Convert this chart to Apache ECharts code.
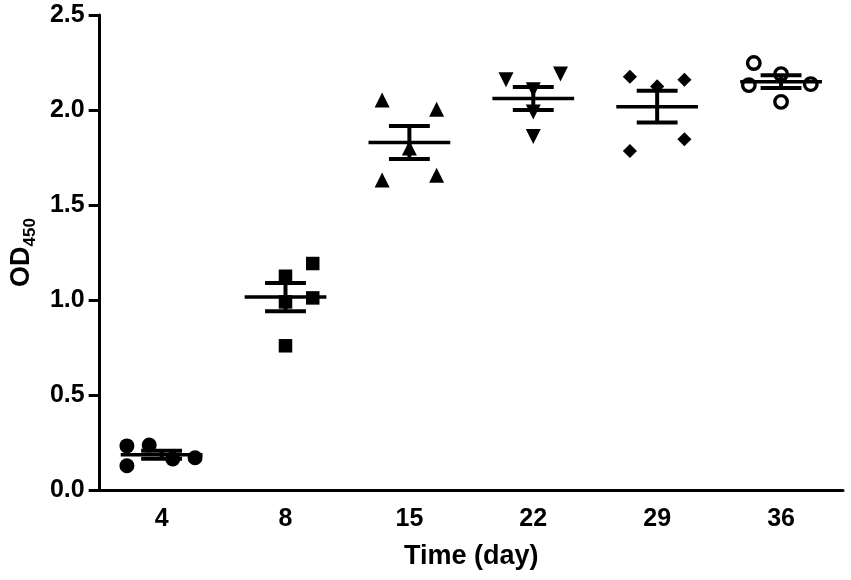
<!DOCTYPE html>
<html>
<head>
    <meta charset="utf-8">
    <title>OD450 time course</title>
    <script src="https://cdn.jsdelivr.net/npm/echarts@6/dist/echarts.min.js"></script>
</head>
<body style="margin:0">
    <div id="main" style="width: 851px;height:580px;"></div>
    <script type="text/javascript">
        // categories (days) and the 5 replicate OD450 readings per day
        var days = ['4', '8', '15', '22', '29', '36']
        var od_d4  = [0.232, 0.128, 0.237, 0.163, 0.170]
        var od_d8  = [1.192, 1.125, 1.011, 0.759, 0.990]
        var od_d15 = [2.053, 2.004, 1.631, 1.656, 1.800]
        var od_d22 = [2.159, 2.189, 1.860, 1.990, 2.107]
        var od_d29 = [2.175, 2.159, 1.846, 1.784, 2.124]
        var od_d36 = [2.247, 2.189, 2.136, 2.131, 2.043]
        var yTicks = [0, 0.5, 1.0, 1.5, 2.0, 2.5]

        // horizontal scatter of the dots within each category (category units)
        var jitter = [
            [-0.28, -0.28, -0.10, 0.09, 0.27],
            [0.22, 0, 0.22, 0, 0],
            [-0.22, 0.22, -0.22, 0.22, 0],
            [-0.22, 0.22, 0, 0, 0],
            [-0.22, 0.22, 0.22, -0.22, 0],
            [-0.22, 0, 0.24, -0.26, 0]
        ]
        var groups = [od_d4, od_d8, od_d15, od_d22, od_d29, od_d36]

        function meanSem(arr) {
            var n = arr.length, s = 0, ss = 0
            arr.forEach(function (v) { s += v })
            var m = s / n
            arr.forEach(function (v) { ss += (v - m) * (v - m) })
            return [m, Math.sqrt(ss / (n - 1)) / Math.sqrt(n)]
        }

        var markers = [
            {symbol: 'circle', size: 15},
            {symbol: 'rect', size: 13.5},
            {symbol: 'triangle', size: 15},
            {symbol: 'triangle', size: 15, rotate: 180},
            {symbol: 'rect', size: 10, rotate: 45},
            {symbol: 'circle', size: 12.5, open: true}
        ]

        var series = []
        groups.forEach(function (g, i) {
            var mk = markers[i]
            series.push({
                type: 'scatter',
                xAxisIndex: 1,
                symbol: mk.symbol,
                symbolSize: mk.size,
                symbolRotate: mk.rotate || 0,
                itemStyle: mk.open ? {color: '#fff', borderColor: '#000', borderWidth: 3.4, opacity: 1}
                                   : {color: '#000', opacity: 1},
                z: 2,
                data: g.map(function (v, k) { return [i + jitter[i][k], v] })
            })
        })

        var stats = groups.map(function (g, i) {
            var ms = meanSem(g)
            return [i, ms[0], ms[1]]
        })

        series.push({
            type: 'custom',
            xAxisIndex: 1,
            z: 5,
            data: stats,
            renderItem: function (params, api) {
                var x = api.value(0), m = api.value(1), s = api.value(2)
                var st = {stroke: '#000', lineWidth: 3.5}
                var a = api.coord([x - 0.33, m]), b = api.coord([x + 0.33, m])
                var t1 = api.coord([x - 0.165, m + s]), t2 = api.coord([x + 0.165, m + s])
                var b1 = api.coord([x - 0.165, m - s]), b2 = api.coord([x + 0.165, m - s])
                var top = api.coord([x, m + s]), bot = api.coord([x, m - s])
                return {
                    type: 'group',
                    children: [
                        {type: 'line', shape: {x1: a[0], y1: a[1], x2: b[0], y2: b[1]}, style: st},
                        {type: 'line', shape: {x1: top[0], y1: top[1], x2: bot[0], y2: bot[1]}, style: {stroke: '#000', lineWidth: 4}},
                        {type: 'line', shape: {x1: t1[0], y1: t1[1], x2: t2[0], y2: t2[1]}, style: {stroke: '#000', lineWidth: 4}},
                        {type: 'line', shape: {x1: b1[0], y1: b1[1], x2: b2[0], y2: b2[1]}, style: {stroke: '#000', lineWidth: 4}}
                    ]
                }
            }
        })

        var axisFont = {color: '#000', fontFamily: 'Liberation Sans', fontWeight: 'bold', fontSize: 25}

        var myChart = echarts.init(document.getElementById('main'))
        var option = {
            animation: false,
            backgroundColor: '#fff',
            grid: {left: 98, right: 8, top: 15, bottom: 90},
            xAxis: [
                {
                    type: 'category',
                    data: days,
                    boundaryGap: true,
                    name: 'Time (day)',
                    nameLocation: 'middle',
                    nameGap: 53,
                    nameTextStyle: {color: '#000', fontFamily: 'Liberation Sans', fontWeight: 'bold', fontSize: 27},
                    axisLine: {onZero: false, lineStyle: {color: '#000', width: 3}},
                    axisTick: {alignWithLabel: true, length: 10, lineStyle: {color: '#000', width: 3}},
                    axisLabel: Object.assign({margin: 17}, axisFont),
                    splitLine: {show: false}
                },
                {
                    type: 'value',
                    min: -0.5,
                    max: 5.5,
                    show: false
                }
            ],
            yAxis: {
                type: 'value',
                min: yTicks[0],
                max: yTicks[yTicks.length - 1],
                interval: 0.5,
                name: '{a|OD}{s|450}',
                nameLocation: 'middle',
                nameRotate: 90,
                nameGap: 58,
                nameTextStyle: {
                    color: '#000',
                    rich: {
                        a: {fontFamily: 'Liberation Sans', fontWeight: 'bold', fontSize: 27, lineHeight: 27, verticalAlign: 'top', color: '#000'},
                        s: {fontFamily: 'Liberation Sans', fontWeight: 'bold', fontSize: 17, lineHeight: 17, verticalAlign: 'top', padding: [14, 0, 0, 0], color: '#000'}
                    }
                },
                axisLine: {show: true, onZero: false, lineStyle: {color: '#000', width: 3}},
                axisTick: {show: true, length: 11, lineStyle: {color: '#000', width: 3}},
                axisLabel: Object.assign({margin: 15, formatter: function (v) { return v.toFixed(1) }}, axisFont),
                splitLine: {show: false}
            },
            series: series
        }
        myChart.setOption(option)
    </script>
</body>
</html>
